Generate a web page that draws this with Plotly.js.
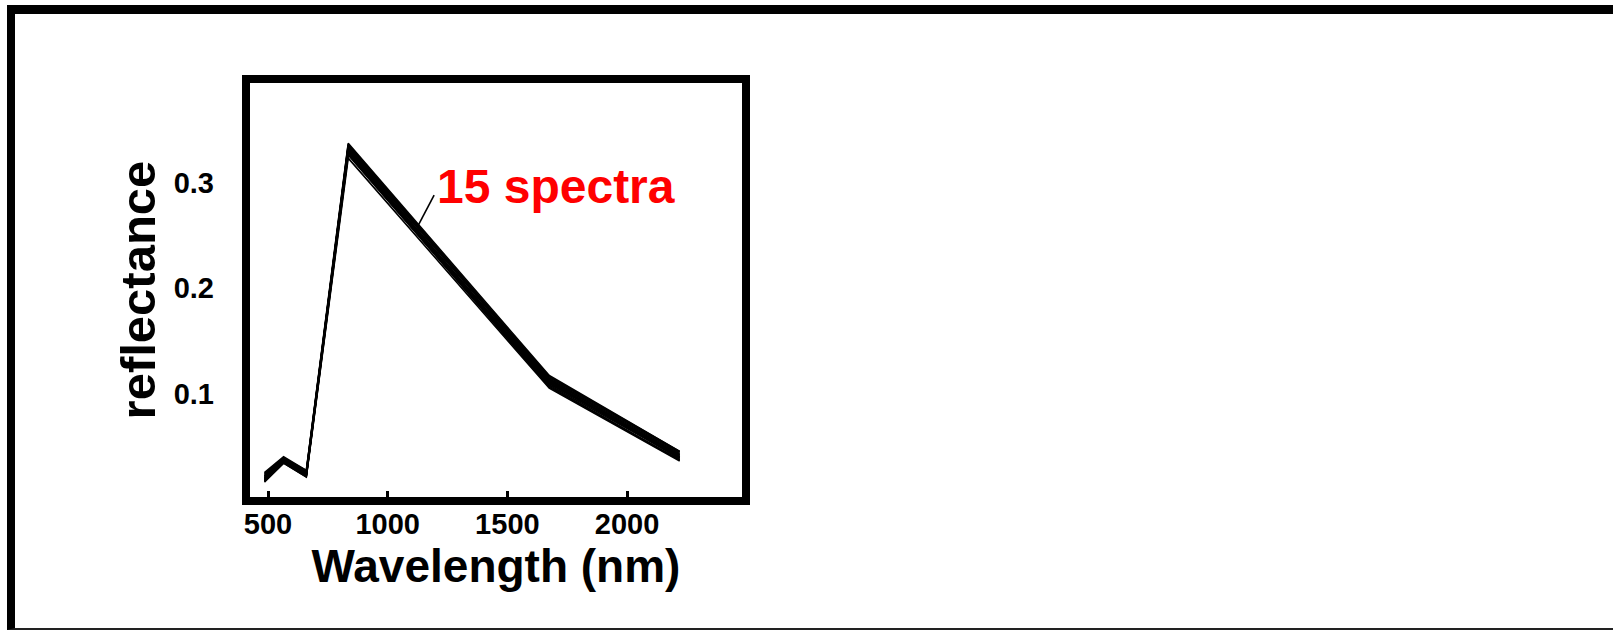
<!DOCTYPE html>
<html>
<head>
<meta charset="utf-8">
<script src="https://cdn.plot.ly/plotly-3.0.1.min.js"></script>
<style>
  html, body { margin: 0; padding: 0; background: #fff; }
  #page { position: relative; width: 1613px; height: 630px; overflow: hidden; }
  #border {
    position: absolute; left: 7px; top: 5px; right: 0; bottom: 0;
    border-left: 8px solid #000; border-top: 9px solid #000; border-bottom: 2px solid #222;
    box-sizing: border-box;
  }
  #chart { position: absolute; left: 0; top: 0; width: 1613px; height: 630px; }
</style>
</head>
<body>
<div id="page">
  <div id="border"></div>
  <div id="chart"></div>
</div>
<script>
// Band centre wavelengths (nm) at which each spectrum is sampled
const wavelengths = [485, 565, 660, 835, 1675, 2220];

// Reflectance of the 15 spectra at those wavelengths
const spectrum01 = [0.018, 0.035, 0.022, 0.330, 0.110, 0.039];
const spectrum02 = [0.020, 0.037, 0.024, 0.334, 0.113, 0.042];
const spectrum03 = [0.017, 0.034, 0.021, 0.326, 0.107, 0.037];
const spectrum04 = [0.022, 0.038, 0.025, 0.336, 0.115, 0.044];
const spectrum05 = [0.019, 0.036, 0.023, 0.331, 0.111, 0.040];
const spectrum06 = [0.024, 0.039, 0.027, 0.333, 0.116, 0.045];
const spectrum07 = [0.016, 0.034, 0.021, 0.323, 0.105, 0.036];
const spectrum08 = [0.021, 0.037, 0.024, 0.329, 0.109, 0.041];
const spectrum09 = [0.018, 0.035, 0.022, 0.335, 0.112, 0.038];
const spectrum10 = [0.023, 0.038, 0.026, 0.332, 0.114, 0.043];
const spectrum11 = [0.020, 0.036, 0.023, 0.328, 0.108, 0.039];
const spectrum12 = [0.025, 0.040, 0.027, 0.337, 0.117, 0.045];
const spectrum13 = [0.017, 0.035, 0.022, 0.327, 0.106, 0.037];
const spectrum14 = [0.022, 0.037, 0.025, 0.330, 0.110, 0.042];
const spectrum15 = [0.019, 0.036, 0.023, 0.334, 0.113, 0.040];

const spectra = [spectrum01, spectrum02, spectrum03, spectrum04, spectrum05,
                 spectrum06, spectrum07, spectrum08, spectrum09, spectrum10,
                 spectrum11, spectrum12, spectrum13, spectrum14, spectrum15];

// Axis ticks
const xTickValues = [500, 1000, 1500, 2000];
const xTickLabels = ['500', '1000', '1500', '2000'];
const yTickValues = [0.1, 0.2, 0.3];
const yTickLabels = ['0.1', '0.2', '0.3'];

const FONT = 'Liberation Sans, Arial, Helvetica, sans-serif';
const xRange = [408, 2497];
const yRange = [-0.0019, 0.398];

const traces = spectra.map(function (vals, i) {
  return {
    x: wavelengths,
    y: vals,
    type: 'scatter',
    mode: 'lines',
    name: 'spectrum ' + (i + 1),
    line: { color: '#000', width: 1.6 },
    hoverinfo: 'x+y'
  };
});

const tickFont = { size: 29, family: FONT, weight: 'bold', color: '#000' };

const layout = {
  width: 1613,
  height: 630,
  margin: { l: 246, r: 867, t: 79, b: 129, pad: 0 },
  paper_bgcolor: 'rgba(0,0,0,0)',
  plot_bgcolor: 'rgba(0,0,0,0)',
  showlegend: false,
  font: { family: FONT, color: '#000' },
  xaxis: {
    range: xRange,
    tickvals: xTickValues,
    ticktext: xTickLabels,
    ticks: 'inside',
    ticklen: 10,
    tickwidth: 3,
    tickcolor: '#000',
    ticklabelstandoff: 3,
    tickfont: tickFont,
    showgrid: false,
    zeroline: false,
    showline: false,
    title: { text: 'Wavelength (nm)', font: { size: 46, family: FONT, weight: 'bold', color: '#000' }, standoff: 0 }
  },
  yaxis: {
    range: yRange,
    tickvals: yTickValues,
    ticktext: yTickLabels,
    ticks: '',
    ticklabelstandoff: 31,
    tickfont: tickFont,
    showgrid: false,
    zeroline: false,
    showline: false,
    title: { text: 'reflectance', font: { size: 49, family: FONT, weight: 'bold', color: '#000' }, standoff: 2 }
  },
  yaxis2: {
    overlaying: 'y',
    side: 'right',
    anchor: 'x',
    range: yRange,
    tickvals: yTickValues,
    ticks: 'inside',
    ticklen: 9,
    tickwidth: 3,
    tickcolor: '#000',
    showticklabels: false,
    showgrid: false,
    zeroline: false,
    showline: false
  },
  shapes: [
    // heavy frame around the plotting area
    { type: 'rect', xref: 'paper', yref: 'paper', x0: 0, x1: 1, y0: 0, y1: 1,
      line: { color: '#000', width: 8 }, fillcolor: 'rgba(0,0,0,0)' },
    // leader from the label to the bundle of spectra
    { type: 'line', xref: 'x', yref: 'y', x0: 1194, y0: 0.288, x1: 1127, y1: 0.259,
      line: { color: '#000', width: 1.6 } }
  ],
  annotations: [
    { text: '15 spectra', xref: 'x', yref: 'y', x: 1199, y: 0.296,
      xanchor: 'left', yanchor: 'middle', showarrow: false,
      font: { size: 48, family: FONT, weight: 'bold', color: '#ff0000' } }
  ]
};

Plotly.newPlot('chart', traces, layout, { displayModeBar: false, staticPlot: true });
</script>
</body>
</html>
